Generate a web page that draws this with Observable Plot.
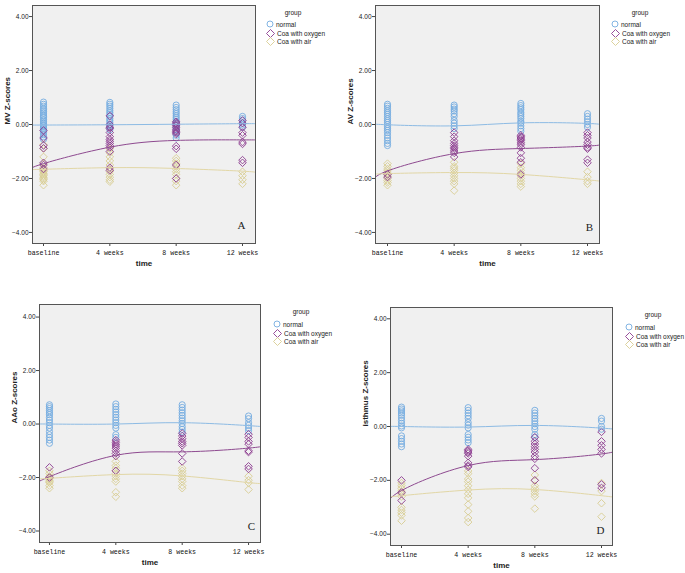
<!DOCTYPE html>
<html>
<head>
<meta charset="utf-8">
<script src="https://cdn.jsdelivr.net/npm/d3@7"></script>
<script src="https://cdn.jsdelivr.net/npm/@observablehq/plot@0.6"></script>
<style>
  html, body { margin: 0; padding: 0; background: #fff; }
  #root { position: relative; width: 685px; height: 573px; overflow: hidden; background: #fff; }
  .cell { position: absolute; }
  .cell svg { display: block; }
  .legend { position: absolute; font-family: Arial, "Liberation Sans", sans-serif; font-size: 6.5px; color: #222; }
  .legend .title { position: absolute; transform: translateX(-50%); white-space: nowrap; }
  .legend .row { position: absolute; white-space: nowrap; display: flex; align-items: center; }
  .legend .row svg { margin-right: 2px; }
</style>
</head>
<body>
<div id="root"></div>
<script>
// ---------- shared categories ----------
const timeLabels = ["baseline", "4 weeks", "8 weeks", "12 weeks"];
const groups = ["normal", "Coa with oxygen", "Coa with air"];
const groupColors = ["#74abe0", "#8b3a8e", "#d8cd92"];
const lineColors = ["#8dbbe4", "#8e4a90", "#e2d7a6"];
const fitX = [-0.2, 0, 1, 2, 3, 3.2];

// ---------- Panel A: MV ----------
const mvNormal = [
  [0.83, 0.75, 0.68, 0.6, 0.55, 0.48, 0.42, 0.35, 0.3, 0.25, 0.18, 0.12, 0.05, 0.0, -0.05, -0.1, -0.15, -0.2, -0.25, -0.3, -0.38, -0.45, -0.55],
  [0.82, 0.75, 0.68, 0.6, 0.52, 0.45, 0.38, 0.3, 0.22, 0.15, 0.08, 0.0, -0.05, -0.12, -0.2],
  [0.72, 0.63, 0.55, 0.47, 0.4, 0.32, 0.25, 0.18, 0.1, 0.03, -0.05, -0.12, -0.2, -0.3, -0.4, -0.5],
  [0.3, 0.22, 0.15, 0.05, -0.02, -0.1]
];
const mvOxygen = [
  [-0.22, -0.5, -0.78, -0.88, -1.42, -1.5, -1.65],
  [0.32, 0.0, -0.1, -0.15, -0.3, -0.45, -0.55, -0.62, -0.7, -0.78, -0.85, -1.0, -1.6, -1.7],
  [0.1, 0.05, 0.0, -0.05, -0.12, -0.2, -0.25, -0.3, -0.35, -0.8, -0.9, -1.5, -2.0],
  [0.15, 0.05, -0.1, -0.3, -0.4, -0.65, -0.72, -1.32, -1.42]
];
const mvAir = [
  [-0.75, -0.9, -1.2, -1.45, -1.6, -1.65, -1.7, -1.75, -1.8, -1.85, -1.9, -1.95, -2.0, -2.05, -2.1, -2.25],
  [-0.9, -1.05, -1.2, -1.35, -1.5, -1.65, -1.75, -1.85, -1.95, -2.05, -2.12],
  [-1.25, -1.35, -1.45, -1.55, -1.65, -1.75, -1.85, -2.0, -2.1, -2.25],
  [-1.75, -1.9, -2.05, -2.2]
];
const mvFitNormal = [-0.02, -0.02, -0.01, 0.01, 0.03, 0.03];
const mvFitOxygen = [-1.68, -1.45, -0.84, -0.59, -0.57, -0.57];
const mvFitAir = [-1.67, -1.66, -1.6, -1.63, -1.73, -1.78];

// ---------- Panel B: AV ----------
const avNormal = [
  [0.75, 0.68, 0.6, 0.52, 0.45, 0.38, 0.3, 0.22, 0.15, 0.08, 0.0, -0.08, -0.15, -0.22, -0.3, -0.4, -0.5, -0.6, -0.7, -0.78],
  [0.72, 0.65, 0.57, 0.5, 0.4, 0.3, 0.15, 0.05, -0.05, -0.15],
  [0.78, 0.7, 0.62, 0.55, 0.45, 0.38, 0.3, 0.22, 0.12, 0.05, -0.05, -0.15, -0.25],
  [0.4, 0.3, 0.2, 0.1, 0.0, -0.1]
];
const avOxygen = [
  [-1.85, -1.95],
  [-0.3, -0.45, -0.6, -0.7, -0.78, -0.85, -0.9, -0.98, -1.05, -1.2],
  [-0.4, -0.45, -0.5, -0.55, -0.6, -0.68, -0.75, -0.85, -1.05, -1.25, -1.4, -1.85],
  [-0.3, -0.4, -0.5, -0.65, -0.75, -0.85, -0.9, -1.3, -1.42]
];
const avAir = [
  [-1.45, -1.55, -1.65, -1.72, -1.8, -1.87, -1.93, -2.0, -2.08, -2.15, -2.25],
  [-1.4, -1.55, -1.62, -1.7, -1.8, -1.9, -2.0, -2.1, -2.2, -2.45],
  [-1.45, -1.6, -1.7, -1.8, -1.9, -2.0, -2.1, -2.2, -2.3],
  [-1.75, -1.95, -2.1, -2.2]
];
const avFitNormal = [0.02, -0.01, -0.05, 0.06, 0.04, -0.02];
const avFitOxygen = [-2.12, -1.72, -1.08, -0.89, -0.8, -0.73];
const avFitAir = [-1.85, -1.82, -1.78, -1.85, -2.05, -2.11];

// ---------- Panel C: AAo ----------
const aaoNormal = [
  [0.72, 0.65, 0.58, 0.5, 0.42, 0.35, 0.25, 0.15, 0.05, -0.05, -0.15, -0.28, -0.4, -0.5, -0.6, -0.72],
  [0.75, 0.65, 0.55, 0.45, 0.35, 0.25, 0.15, 0.05, -0.05, -0.15, -0.4, -0.5],
  [0.72, 0.62, 0.52, 0.42, 0.32, 0.22, 0.12, 0.02, -0.1, -0.2, -0.3],
  [0.3, 0.2, 0.05, -0.05, -0.15, -0.25]
];
const aaoOxygen = [
  [-1.62, -2.0],
  [-0.6, -0.68, -0.75, -0.82, -0.9, -1.0, -1.1, -1.2, -1.75],
  [-0.35, -0.45, -0.55, -0.65, -0.72, -0.8, -1.1, -1.4],
  [-0.38, -0.5, -0.65, -0.75, -1.0, -1.05, -1.58, -1.68]
];
const aaoAir = [
  [-1.75, -1.85, -1.95, -2.0, -2.05, -2.1, -2.15, -2.2, -2.3, -2.4],
  [-1.4, -1.55, -1.65, -1.75, -1.85, -1.95, -2.05, -2.15, -2.55, -2.72],
  [-1.65, -1.75, -1.85, -1.95, -2.05, -2.15, -2.3, -2.4],
  [-1.95, -2.1, -2.2, -2.45]
];
const aaoFitNormal = [0.0, 0.0, 0.0, 0.05, -0.06, -0.1];
const aaoFitOxygen = [-2.25, -1.97, -1.17, -1.04, -0.9, -0.82];
const aaoFitAir = [-2.05, -2.03, -1.89, -1.94, -2.19, -2.21];

// ---------- Panel D: isthmus ----------
const isthNormal = [
  [0.72, 0.65, 0.58, 0.5, 0.42, 0.32, 0.22, 0.12, 0.02, -0.05, -0.35, -0.45, -0.55, -0.65, -0.75],
  [0.7, 0.6, 0.5, 0.4, 0.3, 0.15, 0.05, -0.05, -0.3, -0.4, -0.5, -0.6],
  [0.6, 0.5, 0.4, 0.3, 0.2, 0.1, 0.0, -0.1, -0.3, -0.4],
  [0.3, 0.2, 0.0, -0.1]
];
const isthOxygen = [
  [-2.0, -2.45, -2.75],
  [-0.85, -0.9, -0.95, -1.0, -1.1, -1.35, -1.45, -1.5],
  [-0.4, -0.55, -0.65, -0.75, -0.85, -0.95, -1.1, -1.2, -1.55, -2.0],
  [-0.2, -0.55, -0.7, -0.85, -1.0, -2.15, -2.28]
];
const isthAir = [
  [-2.1, -2.2, -2.3, -2.4, -2.5, -2.6, -3.0, -3.1, -3.2, -3.3, -3.5],
  [-1.65, -1.75, -1.95, -2.05, -2.2, -2.35, -2.5, -2.65, -2.9, -3.15, -3.4, -3.55],
  [-1.8, -2.0, -2.2, -2.3, -2.4, -2.5, -2.6, -3.05],
  [-2.1, -2.4, -2.85, -3.35]
];
const isthFitNormal = [0.0, 0.0, -0.02, 0.04, -0.06, -0.11];
const isthFitOxygen = [-2.95, -2.38, -1.45, -1.23, -1.02, -0.89];
const isthFitAir = [-2.63, -2.57, -2.36, -2.34, -2.57, -2.63];

// ---------- layout (not data) ----------
const panels = [
  {letter: "A", ylabel: "MV Z-scores", left: 0, top: 0, width: 342, height: 285,
   mL: 32, mR: 87, mT: 5, mB: 42, xDom: [-0.166, 3.196], yDom: [-4.41, 4.41],
   pts: [mvNormal, mvOxygen, mvAir], fit: [mvFitNormal, mvFitOxygen, mvFitAir], lg: {x: 270, gx: 293, gy: 13, ry: 24}, lt: {dx: -17, dy: -15}},
  {letter: "B", ylabel: "AV Z-scores", left: 342, top: 0, width: 343, height: 285,
   mL: 33, mR: 86, mT: 5, mB: 42, xDom: [-0.18, 3.18], yDom: [-4.41, 4.41],
   pts: [avNormal, avOxygen, avAir], fit: [avFitNormal, avFitOxygen, avFitAir], lg: {x: 273, gx: 298, gy: 13, ry: 24}, lt: {dx: -13, dy: -13}},
  {letter: "C", ylabel: "AAo Z-scores", left: 0, top: 285, width: 342, height: 288,
   mL: 39, mR: 82, mT: 19, mB: 31, xDom: [-0.15, 3.18], yDom: [-4.43, 4.47],
   pts: [aaoNormal, aaoOxygen, aaoAir], fit: [aaoFitNormal, aaoFitOxygen, aaoFitAir], lg: {x: 277, gx: 301, gy: 27, ry: 39}, lt: {dx: -12, dy: -13}},
  {letter: "D", ylabel: "isthmus Z-scores", left: 342, top: 285, width: 343, height: 288,
   mL: 48, mR: 73, mT: 22, mB: 28, xDom: [-0.165, 3.165], yDom: [-4.42, 4.42],
   pts: [isthNormal, isthOxygen, isthAir], fit: [isthFitNormal, isthFitOxygen, isthFitAir], lg: {x: 287, gx: 311, gy: 30, ry: 42}, lt: {dx: -15, dy: -12}}
];

const root = document.getElementById("root");

function flatten(series) {
  const rows = [];
  series.forEach((g, gi) => g.forEach((vals, ti) => vals.forEach(v => rows.push({group: groups[gi], t: ti, v}))));
  return rows;
}

function fitRows(fits) {
  const rows = [];
  fits.forEach((vals, gi) => vals.forEach((v, i) => rows.push({group: groups[gi], t: fitX[i], v})));
  return rows;
}

for (const p of panels) {
  const cell = document.createElement("div");
  cell.className = "cell";
  cell.style.left = p.left + "px";
  cell.style.top = p.top + "px";
  cell.style.width = p.width + "px";
  cell.style.height = p.height + "px";

  const ptsNormal = flatten([p.pts[0], [], []]);
  const ptsOxy = flatten([[], p.pts[1], []]);
  const ptsAir = flatten([[], [], p.pts[2]]);
  const fits = fitRows(p.fit);

  const chart = Plot.plot({
    width: p.width, height: p.height,
    marginLeft: p.mL, marginRight: p.mR, marginTop: p.mT, marginBottom: p.mB,
    style: {background: "transparent", overflow: "visible"},
    x: {domain: p.xDom, axis: null},
    y: {domain: p.yDom, axis: null},
    color: {domain: groups, range: groupColors},
    marks: [
      Plot.frame({fill: "#f0f0f0", stroke: null}),
      Plot.axisY({ticks: [-4, -2, 0, 2, 4], tickFormat: d3.format(".2f"), tickSize: 3, tickPadding: 1,
        fontSize: 6.5, fontFamily: "Arial, Liberation Sans, sans-serif", fill: "#222", stroke: "#444", label: null}),
      Plot.axisX({ticks: [0, 1, 2, 3], tickFormat: i => timeLabels[i], tickSize: 3, tickPadding: 4,
        fontSize: 6.6, fontFamily: "Liberation Mono, DejaVu Sans Mono, monospace", fill: "#111", stroke: "#444", label: null}),
      Plot.text([p.ylabel], {frameAnchor: "left", rotate: -90, dx: -25, fontSize: 8, fontWeight: "bold",
        fontFamily: "Arial, Liberation Sans, sans-serif", fill: "#222"}),
      Plot.text(["time"], {frameAnchor: "bottom", dy: 22, fontSize: 8, fontWeight: "bold",
        fontFamily: "Arial, Liberation Sans, sans-serif", fill: "#222"}),
      Plot.dot(ptsNormal, {x: "t", y: "v", r: 3.1, symbol: "circle", stroke: groupColors[0], strokeWidth: 0.9, fill: "none"}),
      Plot.dot(ptsAir, {x: "t", y: "v", r: 3.4, symbol: "diamond2", stroke: groupColors[2], strokeWidth: 0.9, fill: "none"}),
      Plot.dot(ptsOxy, {x: "t", y: "v", r: 3.4, symbol: "diamond2", stroke: groupColors[1], strokeWidth: 0.9, fill: "none"}),
      Plot.line(fits, {x: "t", y: "v", z: "group", stroke: d => lineColors[groups.indexOf(d.group)], strokeWidth: 1, curve: "natural", clip: true}),
      Plot.text([p.letter], {frameAnchor: "bottom-right", dx: p.lt.dx + 3, dy: p.lt.dy, fontSize: 11,
        fontFamily: "Liberation Serif, DejaVu Serif, serif", fill: "#222", textAnchor: "middle"}),
      Plot.frame({stroke: "#555", strokeWidth: 1})
    ]
  });
  cell.appendChild(chart);

  // legend
  const lg = document.createElement("div");
  lg.className = "legend";
  lg.style.left = "0px"; lg.style.top = "0px";
  const title = document.createElement("div");
  title.className = "title";
  title.textContent = "group";
  title.style.left = p.lg.gx + "px";
  title.style.top = (p.lg.gy - 4) + "px";
  lg.appendChild(title);
  groups.forEach((g, i) => {
    const row = document.createElement("div");
    row.className = "row";
    row.style.left = (p.lg.x - 4) + "px";
    row.style.top = (p.lg.ry + i * 8.5 - 4) + "px";
    const sym = i === 0
      ? `<svg width="8" height="8"><circle cx="4" cy="4" r="3" fill="none" stroke="${groupColors[0]}" stroke-width="0.9"/></svg>`
      : `<svg width="9" height="9"><path d="M4.5,0.5L8.5,4.5L4.5,8.5L0.5,4.5Z" fill="none" stroke="${groupColors[i]}" stroke-width="0.9"/></svg>`;
    row.innerHTML = sym + `<span>${g}</span>`;
    lg.appendChild(row);
  });
  cell.appendChild(lg);
  root.appendChild(cell);
}
</script>
</body>
</html>
